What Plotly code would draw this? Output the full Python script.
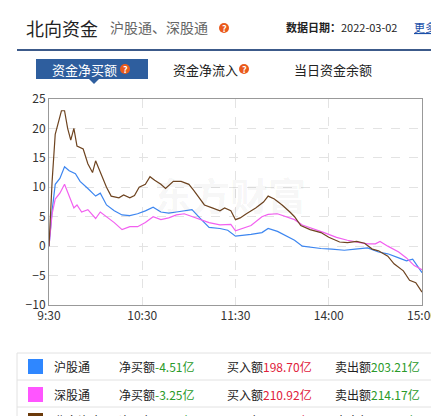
import plotly.graph_objects as go

W, H = 439, 416

# minutes since 9:30 (trading minutes, 11:30 -> 13:00 joined)
sh_x = [0, 2, 4, 7, 10, 13, 17, 20, 25, 30, 33, 37, 42, 47, 52, 57, 62, 67, 72, 77, 82, 87, 92, 97, 103, 110, 115,
        120, 125, 130, 137, 141, 147, 153, 158, 163, 168, 175, 182, 190, 197, 205, 212, 218, 225, 230, 234, 237, 240]
sh_y = [0, 6, 10.5, 11.5, 13.5, 12.8, 12.3, 11, 9.8, 8.5, 9, 7, 6, 5.3, 5.2, 5.5, 6, 6.6, 5.8, 5.6, 5.8, 6, 6.2, 4.8,
        3.2, 3, 2.7, 1.7, 1.8, 2, 2.3, 3, 2.5, 1.7, 1, 0, -0.2, -0.4, -0.5, -0.7, -0.5, -0.3, -1, -1.3, -2, -2.5, -2.2,
        -3.4, -4.5]

sz_x = [0, 2, 4, 7, 10, 13, 16, 18, 21, 25, 30, 33, 37, 42, 47, 52, 57, 62, 67, 72, 77, 82, 87, 92, 97, 103, 110,
        117, 120, 125, 130, 137, 141, 147, 153, 158, 163, 170, 177, 185, 192, 200, 205, 210, 213, 218, 225, 230, 235, 240]
sz_y = [0, 5.5, 8, 9, 10.5, 8.5, 6.5, 7, 5.8, 6.2, 4.7, 5.8, 5, 4, 2.8, 3.3, 3.3, 4, 5, 4.5, 4.8, 5.3, 5.5, 5, 4.5,
        4, 3.6, 3.7, 2.6, 3, 3.5, 5, 5.4, 5.5, 5, 4.5, 3.6, 3, 2.3, 1.5, 1, 0.6, 0.4, 0.4, 0.8, 0, -1, -2, -3.3, -4]

nb_x = [0, 2, 4, 6, 8, 10, 12, 14, 16, 18, 22, 25, 28, 30, 33, 37, 40, 45, 48, 52, 55, 58, 62, 65, 68, 72, 75, 80,
        85, 90, 93, 97, 100, 105, 110, 113, 117, 120, 123, 127, 133, 138, 141, 145, 150, 155, 158, 162, 168, 175, 180,
        187, 192, 198, 203, 208, 212, 218, 222, 228, 232, 236, 240]
nb_y = [0, 11, 19, 21, 23, 23, 20, 18, 20, 17, 16.5, 14, 12.5, 14.5, 12.5, 10, 8.5, 8.2, 8.7, 8.2, 8.6, 10, 10.5,
        11.8, 11.2, 10.5, 9.8, 11, 11, 10.5, 9.5, 8, 7, 6.5, 6, 6.5, 6, 4.5, 4.8, 5.5, 6.5, 7.5, 8.5, 8, 7, 5.8, 5,
        3.5, 2.8, 2.3, 1.5, 0.7, 0.6, 0.8, 0.5, -0.5, -0.8, -1.7, -3, -4.2, -5.8, -6.2, -7.8]

tick_vals = [0, 60, 120, 180, 240]
tick_text = ["9:30", "10:30", "11:30", "14:00", "15:00"]

names = ["沪股通", "深股通", "北向资金"]
colors = ["#3d86f0", "#f260f0", "#6e4420"]
swatch = ["#2f87ff", "#ff55ff", "#6b3a0a"]
net = ["-4.51亿", "-3.25亿", "-7.76亿"]
buy = ["198.70亿", "210.92亿", "409.62亿"]
sell = ["203.21亿", "214.17亿", "417.38亿"]


def px(x):
    return x / W


def py(y):
    return 1 - y / H


fig = go.Figure()
for xs, ys, c in [(sh_x, sh_y, colors[0]), (sz_x, sz_y, colors[1]), (nb_x, nb_y, colors[2])]:
    fig.add_trace(go.Scatter(x=xs, y=ys, mode="lines", line=dict(color=c, width=1.2), showlegend=False))

FONT = "Noto Sans CJK SC"
shapes = []
ann = []


def text(x, y, s, size=12, color="#333", anchor="left"):
    ann.append(dict(x=px(x), y=py(y), xref="paper", yref="paper", text=s, showarrow=False,
                    xanchor=anchor, yanchor="middle", font=dict(size=size, color=color, family=FONT)))


def qmark(x, y):
    shapes.append(dict(type="circle", xref="paper", yref="paper", x0=px(x - 5), x1=px(x + 5),
                       y0=py(y + 5), y1=py(y - 5), fillcolor="#ea5a1c", line=dict(width=0)))
    text(x, y, "<b>?</b>", 9, "white", "center")


# header
text(16, 20, "北向资金", 18, "#222")
text(100, 19, "沪股通、深股通", 14, "#666")
qmark(216, 20)
text(276, 19, "<b>数据日期：</b>2022-03-02", 11, "#222")
text(404, 19, "<u>更多</u>", 11, "#1a4fa8")
shapes.append(dict(type="line", xref="paper", yref="paper", x0=px(9), x1=px(433), y0=py(42), y1=py(42),
                   line=dict(color="#3c5a8a", width=2)))
shapes.append(dict(type="rect", xref="paper", yref="paper", x0=px(28), x1=px(140), y0=py(51), y1=py(71),
                   fillcolor="#2e5e9e", line=dict(width=0)))
shapes.append(dict(type="path", xref="paper", yref="paper",
                   path=f"M {px(81)} {py(71)} L {px(91)} {py(71)} L {px(86)} {py(76)} Z",
                   fillcolor="#2e5e9e", line=dict(width=0)))
text(42, 61, "资金净买额", 13, "white")
qmark(117, 61)
text(163, 61, "资金净流入", 13, "#222")
qmark(236, 61)
text(284, 61, "当日资金余额", 13, "#222")

# watermark
text(222, 185, "<b>东方财富</b>", 38, "rgba(0,0,0,0.05)", "center")

# table
rows = [358, 386, 412]
shapes.append(dict(type="rect", xref="paper", yref="paper", x0=px(9), x1=px(433), y0=py(345), y1=py(420),
                   line=dict(color="#e2e2e2", width=1)))
for r in [372, 399]:
    shapes.append(dict(type="line", xref="paper", yref="paper", x0=px(9), x1=px(433), y0=py(r), y1=py(r),
                       line=dict(color="#e2e2e2", width=1)))
for i, yy in enumerate(rows):
    shapes.append(dict(type="rect", xref="paper", yref="paper", x0=px(20), x1=px(35), y0=py(yy - 7),
                       y1=py(yy + 8), fillcolor=swatch[i], line=dict(width=0)))
    text(44, yy, names[i], 12, "#222")
    text(109, yy, f"净买额<span style='color:#2a9a2a'>{net[i]}</span>", 12, "#222")
    text(217, yy, f"买入额<span style='color:#e0203a'>{buy[i]}</span>", 12, "#222")
    text(325, yy, f"卖出额<span style='color:#2a9a2a'>{sell[i]}</span>", 12, "#222")

fig.update_layout(
    width=W, height=H, margin=dict(l=0, r=0, t=0, b=0, autoexpand=False), paper_bgcolor="white",
    plot_bgcolor="white", shapes=shapes, annotations=ann, font=dict(family=FONT),
    xaxis=dict(domain=[px(41), px(414)], range=[0, 240], tickvals=tick_vals, ticktext=tick_text,
               showgrid=True, gridcolor="#e3e3e3", griddash="dash", zeroline=False, automargin=False,
               showline=True, linecolor="#999", mirror=True, ticks="", tickfont=dict(size=12, color="#333")),
    yaxis=dict(domain=[py(297), py(91)], range=[-10, 25], dtick=5, showgrid=True, gridcolor="#e3e3e3",
               griddash="dash", zeroline=False, showline=True, linecolor="#999", mirror=True, automargin=False,
               tickfont=dict(size=12, color="#333")),
)
fig.write_html("out.html")
